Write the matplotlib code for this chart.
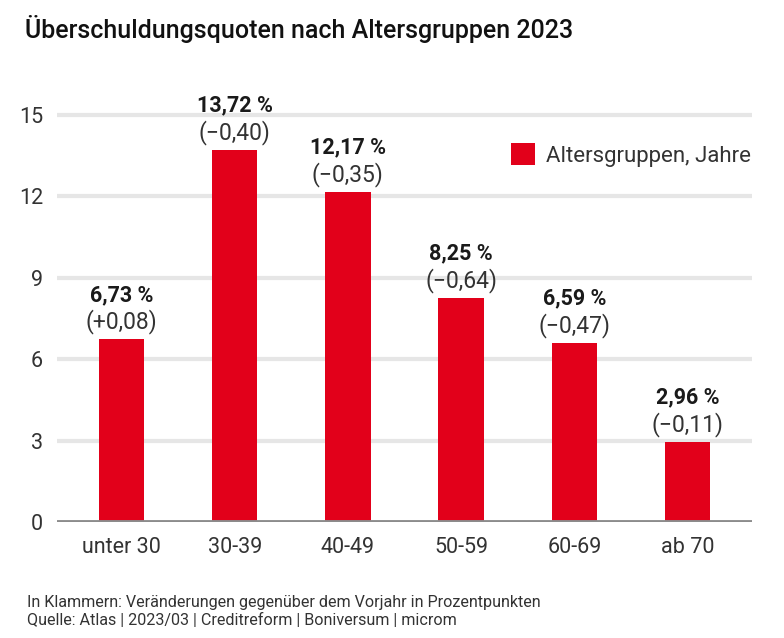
import matplotlib.pyplot as plt

gruppen = ["unter 30", "30-39", "40-49", "50-59", "60-69", "ab 70"]
quoten = [6.73, 13.72, 12.17, 8.25, 6.59, 2.96]
veraenderung = ["(+0,08)", "(\u22120,40)", "(\u22120,35)", "(\u22120,64)", "(\u22120,47)", "(\u22120,11)"]
y_ticks = [0, 3, 6, 9, 12, 15]

rot = "#e2001a"
plt.rcParams["font.family"] = ["Roboto", "DejaVu Sans"]

fig = plt.figure(figsize=(7.84, 6.38), dpi=100)
ax = fig.add_axes([0.0727, 0.1818, 0.8865, 0.702])

x = range(len(gruppen))
ax.bar(x, quoten, width=0.4, color=rot, zorder=3, label="Altersgruppen, Jahre")
ax.set_xlim(-0.57, 5.57)
ax.set_ylim(0, 16.5)
ax.set_yticks(y_ticks)
ax.set_yticklabels([str(t) for t in y_ticks], fontsize=15.5, color="#333333")
ax.set_xticks(list(x))
ax.set_xticklabels(gruppen, fontsize=15.5, color="#333333")
ax.tick_params(length=0)
ax.tick_params(axis="y", pad=10)
ax.tick_params(axis="x", pad=11)

for t in y_ticks[1:]:
    ax.axhline(t, color="#e6e6e6", linewidth=3, zorder=1)
ax.axhline(0, color="#8c8c8c", linewidth=3.5, zorder=4)

for s in ax.spines.values():
    s.set_visible(False)

for i, (q, v) in enumerate(zip(quoten, veraenderung)):
    ax.annotate(f"{q:.2f} %".replace(".", ","), (i, q), xytext=(0, 32), textcoords="offset points",
                ha="center", va="center", fontsize=15.5, fontweight="bold", color="#1a1a1a")
    ax.annotate(v, (i, q), xytext=(0, 12.5), textcoords="offset points",
                ha="center", va="center", fontsize=16.5, color="#333333")

ax.legend(loc="upper right", bbox_to_anchor=(1.012, 0.865), frameon=False, fontsize=16,
          handlelength=1.1, handleheight=1.1, handletextpad=0.5, borderaxespad=0,
          labelcolor="#333333")

fig.text(0.032, 0.955, "Überschuldungsquoten nach Altersgruppen 2023", fontsize=18,
         fontweight="medium", color="#111111", va="center")
fig.text(0.034, 0.055, "In Klammern: Veränderungen gegenüber dem Vorjahr in Prozentpunkten",
         fontsize=11.6, color="#333333", va="center")
fig.text(0.034, 0.028, "Quelle: Atlas | 2023/03 | Creditreform | Boniversum | microm",
         fontsize=11.6, color="#333333", va="center")

fig.savefig("out.png", dpi=100)
